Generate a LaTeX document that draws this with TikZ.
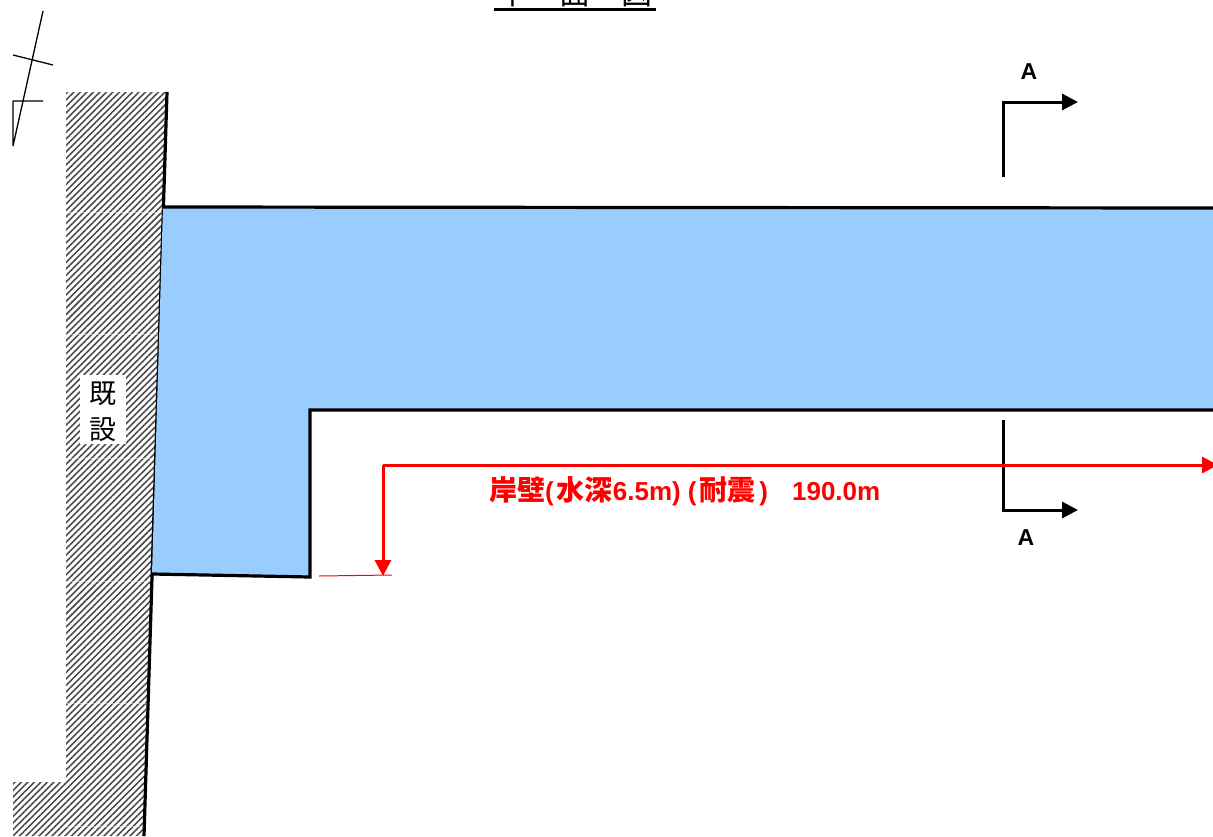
\documentclass[tikz,border=0pt]{standalone}
\usepackage{fontspec}
\setmainfont{Liberation Sans}
\newfontfamily\cjk{Noto Sans CJK JP}
\usetikzlibrary{arrows.meta,patterns.meta}
\definecolor{waterblue}{HTML}{99CCFF}
\newcommand{\bigcjk}[1]{{\fontsize{28}{28}\selectfont\cjk #1}}
\tikzset{
	wall/.style={line width=3.2pt},
	thinline/.style={line width=1.3pt,line join=bevel},
	hatch/.style={pattern={Lines[angle=45,distance=4.6pt,line width=1.6pt]},pattern color=black!70},
	secarrow/.style={line width=3pt,-{Triangle[length=16pt,width=16pt]}},
	dimarrow/.style={red,line width=3pt,-{Triangle[length=16pt,width=16pt]}},
	seclabel/.style={font=\fontsize{23}{23}\selectfont\bfseries}
}
\begin{document}
\begin{tikzpicture}[x=1pt,y=-1pt]
	\useasboundingbox (0,0) rectangle (1213,836);
	% title
		\node[inner sep=0pt,anchor=south] (title) at (575,7) {\fontsize{31}{31}\selectfont\cjk 平　面　図};
		\draw[line width=2.5pt] (494,9.5) -- (656,9.5);
	% north mark
		\draw[thinline] (43,11) -- (13,146) -- (13,101) -- (43,101);
		\draw[thinline] (13,55) -- (53,65);
	% existing quay
		\fill[hatch] (66,92) -- (167,92) -- (144,836) -- (13,836) -- (13,782) -- (66,782) -- cycle;
		\foreach \y/\xr in {212/163,334/159,458/155,581/152,703/148,826/144}
			\draw[white,opacity=.5,line width=.6pt] (66,\y) -- (\xr,\y);
		\draw[wall] (167,92) -- (144,836);
		\node[fill=white,inner sep=0pt,minimum width=46pt,minimum height=69pt] (existingbox) at (103,409.5) {};
		\node[inner sep=0pt,align=center,font=\fontsize{27}{36}\selectfont\cjk] (existing) at (103,412) {既\\設};
	% new quay
		\fill[waterblue] (163,207) -- (1213,208) -- (1213,410) -- (310,410) -- (310,577) -- (152,574) -- cycle;
		\draw[wall] (1213,208) -- (163,207);
		\draw[wall] (1213,410) -- (310,410) -- (310,577) -- (152,574);
	% section A-A
		\draw[secarrow] (1003,177) -- (1003,102) -- (1078,102);
		\node[seclabel] (atop) at (1029,72) {A};
		\draw[secarrow] (1003,420) -- (1003,510) -- (1078,510);
		\node[seclabel] (abottom) at (1026,538) {A};
	% quay length
		\draw[red,line width=1pt] (319,576) -- (392,575);
		\draw[dimarrow] (383,465) -- (1218,465);
		\draw[dimarrow] (383,465) -- (383,576);
		\node[red,inner sep=0pt,anchor=west] (length) at (489,491)
			{\fontsize{26}{26}\selectfont\bfseries\bigcjk{岸壁}(\hspace{3pt}\bigcjk{水深}6.5m)\hspace{7pt}(\hspace{3pt}\bigcjk{耐震}\hspace{4pt})\hspace{24pt}190.0m};
\end{tikzpicture}
\end{document}
